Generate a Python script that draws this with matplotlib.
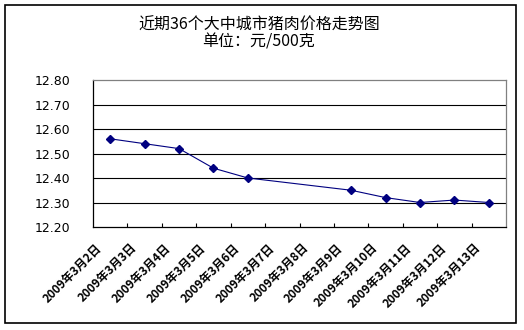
import matplotlib
matplotlib.use("Agg")
import matplotlib.pyplot as plt
from matplotlib.patches import Rectangle
from matplotlib.transforms import ScaledTranslation
import numpy as np

plt.rcParams['font.family'] = ['Noto Sans CJK SC', 'DejaVu Sans']

# 近期36个大中城市猪肉价格（元/500克）
dates = ["2009年3月2日", "2009年3月3日", "2009年3月4日", "2009年3月5日",
         "2009年3月6日", "2009年3月7日", "2009年3月8日", "2009年3月9日",
         "2009年3月10日", "2009年3月11日", "2009年3月12日", "2009年3月13日"]
prices = [12.56, 12.54, 12.52, 12.44, 12.40, None, None, 12.35,
          12.32, 12.30, 12.31, 12.30]
y_ticks = [12.20, 12.30, 12.40, 12.50, 12.60, 12.70, 12.80]

W, H = 524, 330
fig = plt.figure(figsize=(W / 100, H / 100), dpi=100)
fig.patch.set_facecolor("white")

# outer chart frame
fig.patches.append(Rectangle((5 / W, 1 - 323 / H), 511 / W, 318 / H,
                             transform=fig.transFigure, fill=False,
                             edgecolor="black", linewidth=1.2))

ax = fig.add_axes([93 / W, 1 - 227 / H, 413 / W, 147 / H])

x = np.arange(len(dates))
valid = [i for i, v in enumerate(prices) if v is not None]
ax.plot([x[i] for i in valid], [prices[i] for i in valid],
        color="#000080", linewidth=0.8, marker="D", markersize=4,
        markerfacecolor="#000080", markeredgecolor="#000080", zorder=3)

ax.set_xlim(-0.5, len(dates) - 0.5)
ax.set_ylim(y_ticks[0], y_ticks[-1])
ax.set_yticks(y_ticks)
ax.set_yticklabels([f"{v:.2f}" for v in y_ticks], fontsize=9,
                   family="DejaVu Sans")
ax.tick_params(axis="y", length=0, pad=16)

# category labels: slanted, ending just left of each category centre
ax.set_xticks(x)
ax.set_xticklabels(dates, rotation=45, ha="right", va="center",
                   rotation_mode="anchor", fontsize=8.5, fontweight="bold")
ax.tick_params(axis="x", which="major", length=0, pad=0)
shift = ScaledTranslation(-10 / 100, -19 / 100, fig.dpi_scale_trans)
for lbl in ax.get_xticklabels():
    lbl.set_transform(lbl.get_transform() + shift)

ax.set_xticks(np.arange(0.5, len(dates) - 1, 1.0), minor=True)
ax.tick_params(axis="x", which="minor", direction="in", length=3,
               width=0.8, color="black")

for v in y_ticks[1:-1]:
    ax.axhline(v, color="black", linewidth=0.8, zorder=1)

for side in ("left", "bottom"):
    ax.spines[side].set_color("black")
    ax.spines[side].set_linewidth(0.9)
for side in ("top", "right"):
    ax.spines[side].set_color("#808080")
    ax.spines[side].set_linewidth(0.9)

fig.text(259 / W, 1 - 25 / H, "近期36个大中城市猪肉价格走势图", ha="center",
         va="center", fontsize=11.5)
fig.text(259 / W, 1 - 42 / H, "单位：元/500克", ha="center", va="center",
         fontsize=11.5)

fig.savefig("out.png", dpi=100)
